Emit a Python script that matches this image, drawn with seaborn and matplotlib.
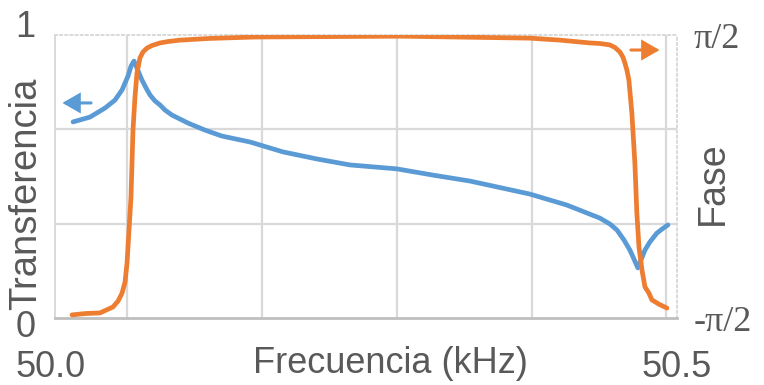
import numpy as np
import pandas as pd
import matplotlib
matplotlib.use("Agg")
import matplotlib.pyplot as plt
import seaborn as sns
from matplotlib.transforms import ScaledTranslation

# ---- data ----
freq_transfer = [50.0145, 50.0281, 50.0402, 50.0482, 50.0539, 50.0587, 50.0611, 50.0635,
                 50.0659, 50.0699, 50.0732, 50.0764, 50.0804, 50.0844, 50.0884, 50.0941,
                 50.1005, 50.1069, 50.1206, 50.1342, 50.1568, 50.1833, 50.2106, 50.2371,
                 50.2749, 50.3039, 50.3336, 50.3818, 50.4116, 50.4381, 50.4462, 50.4518,
                 50.4574, 50.4622, 50.4655, 50.4686, 50.4743, 50.4783, 50.4839, 50.4880,
                 50.4928]
transferencia = [0.693, 0.710, 0.742, 0.770, 0.806, 0.855, 0.890, 0.908,
                 0.883, 0.841, 0.813, 0.788, 0.767, 0.753, 0.735, 0.717,
                 0.703, 0.689, 0.664, 0.643, 0.622, 0.587, 0.562, 0.541,
                 0.527, 0.505, 0.484, 0.438, 0.399, 0.353, 0.332, 0.311,
                 0.276, 0.240, 0.208, 0.177, 0.240, 0.269, 0.300, 0.314,
                 0.329]

freq_fase = [50.0137, 50.0249, 50.0362, 50.0466, 50.0507, 50.0539, 50.0563, 50.0579,
             50.0595, 50.0611, 50.0619, 50.0627, 50.0643, 50.0659, 50.0683, 50.0707,
             50.0740, 50.0780, 50.0844, 50.0909, 50.1005, 50.1246, 50.1608, 50.2773,
             50.3818, 50.4060, 50.4301, 50.4382, 50.4461, 50.4502, 50.4542, 50.4566,
             50.4582, 50.4598, 50.4614, 50.4638, 50.4662, 50.4678, 50.4695, 50.4719,
             50.4743, 50.4775, 50.4799, 50.4855, 50.4920]
fase_pi = [-0.489, -0.484, -0.482, -0.461, -0.440, -0.412, -0.373, -0.306,
           -0.189, -0.072, 0.048, 0.164, 0.281, 0.366, 0.419, 0.440,
           0.454, 0.463, 0.472, 0.477, 0.482, 0.488, 0.493, 0.496,
           0.489, 0.482, 0.472, 0.470, 0.465, 0.456, 0.440, 0.422,
           0.401, 0.376, 0.341, 0.224, 0.048, -0.129, -0.249, -0.330,
           -0.390, -0.412, -0.436, -0.451, -0.465]

x_ticks = [50.0, 50.5]
x_tick_labels = ["50.0", "50.5"]
grid_x = [50.0579, 50.1664, 50.2749, 50.3834, 50.4912]
y_ticks = [0, 1]
y_tick_labels = ["0", "1"]
grid_y = [1 / 3, 2 / 3]
fase_ticks = [-0.5 * np.pi, 0.5 * np.pi]
fase_tick_labels = ["-π/2", "π/2"]

BLUE = "#5B9BD5"
ORANGE = "#ED7D31"
TXT = "#595959"
GRID = "#d9d9d9"

sns.set_style("white")
plt.rcParams["font.family"] = ["Liberation Sans", "DejaVu Sans"]

fig = plt.figure(figsize=(7.64, 3.85), dpi=100)
ax = fig.add_axes([0.072, 0.174, 0.814, 0.735])

df_t = pd.DataFrame({"f": freq_transfer, "t": transferencia})
sns.lineplot(data=df_t, x="f", y="t", ax=ax, color=BLUE, linewidth=3.4, sort=False)

ax.set_xlim(50.0, 50.5)
ax.set_ylim(0, 1)
ax.set_xticks(x_ticks)
ax.set_xticklabels(x_tick_labels)
ax.set_xticks(grid_x, minor=True)
ax.set_yticks(y_ticks)
ax.set_yticklabels(y_tick_labels)
ax.set_yticks(grid_y, minor=True)
ax.grid(False)
ax.grid(True, which="minor", color=GRID, linewidth=1.6)
ax.tick_params(which="both", length=0, labelsize=26, labelcolor=TXT)
ax.tick_params(axis="x", pad=23)
ax.tick_params(axis="y", pad=14)

for side in ["left", "top", "right"]:
    ax.spines[side].set_color(GRID)
    ax.spines[side].set_linewidth(1.4)
ax.spines["top"].set_linestyle(":")
ax.spines["right"].set_linestyle(":")
ax.spines["bottom"].set_color("#bfbfbf")
ax.spines["bottom"].set_linewidth(2)

ax.set_xlabel("Frecuencia (kHz)", fontsize=26, color=TXT)
ax.set_ylabel("Transferencia", fontsize=27.5, color=TXT)
ax.xaxis.set_label_coords(0.54, -0.16, transform=ax.transAxes)
ax.xaxis.label.set_va("center")
ax.yaxis.set_label_coords(-0.047, 0.44)
ax.yaxis.label.set_va("center")

# nudge the y tick labels like the reference ("1" sits above the frame)
offsets = {"1": 12, "0": -5}
for tick, lab in zip(ax.yaxis.get_major_ticks(), y_tick_labels):
    dy = offsets.get(lab, 0) / 100.0
    tick.label1.set_transform(tick.label1.get_transform() + ScaledTranslation(0, dy, fig.dpi_scale_trans))
for tick in ax.xaxis.get_major_ticks()[:1]:
    tick.label1.set_transform(tick.label1.get_transform() + ScaledTranslation(-0.04, 0, fig.dpi_scale_trans))

ax2 = ax.twinx()
df_f = pd.DataFrame({"f": freq_fase, "fase": np.array(fase_pi) * np.pi})
sns.lineplot(data=df_f, x="f", y="fase", ax=ax2, color=ORANGE, linewidth=3.4, sort=False)
ax2.set_ylim(-0.5 * np.pi, 0.5 * np.pi)
ax2.set_yticks(fase_ticks)
ax2.set_yticklabels(fase_tick_labels, family=["Liberation Serif", "DejaVu Serif"])
ax2.tick_params(length=0, labelsize=26, labelcolor=TXT, pad=12)
ax2.grid(False)
for s in ax2.spines.values():
    s.set_visible(False)
ax2.set_ylabel("Fase", fontsize=27, color=TXT)
ax2.yaxis.set_label_coords(1.058, 0.477)
ax2.yaxis.label.set_va("center")

# direction arrows
arrow_style = "-|>,head_length=0.45,head_width=0.26"
ax.annotate("", xy=(50.0060, 0.760), xytext=(50.0290, 0.760),
            arrowprops=dict(arrowstyle=arrow_style, color=BLUE, lw=2.2,
                            mutation_scale=22, shrinkA=0, shrinkB=0, joinstyle="miter"))
ax.annotate("", xy=(50.4860, 0.947), xytext=(50.4630, 0.947),
            arrowprops=dict(arrowstyle=arrow_style, color=ORANGE, lw=2.2,
                            mutation_scale=22, shrinkA=0, shrinkB=0, joinstyle="miter"))

fig.savefig("out.png", dpi=100)
